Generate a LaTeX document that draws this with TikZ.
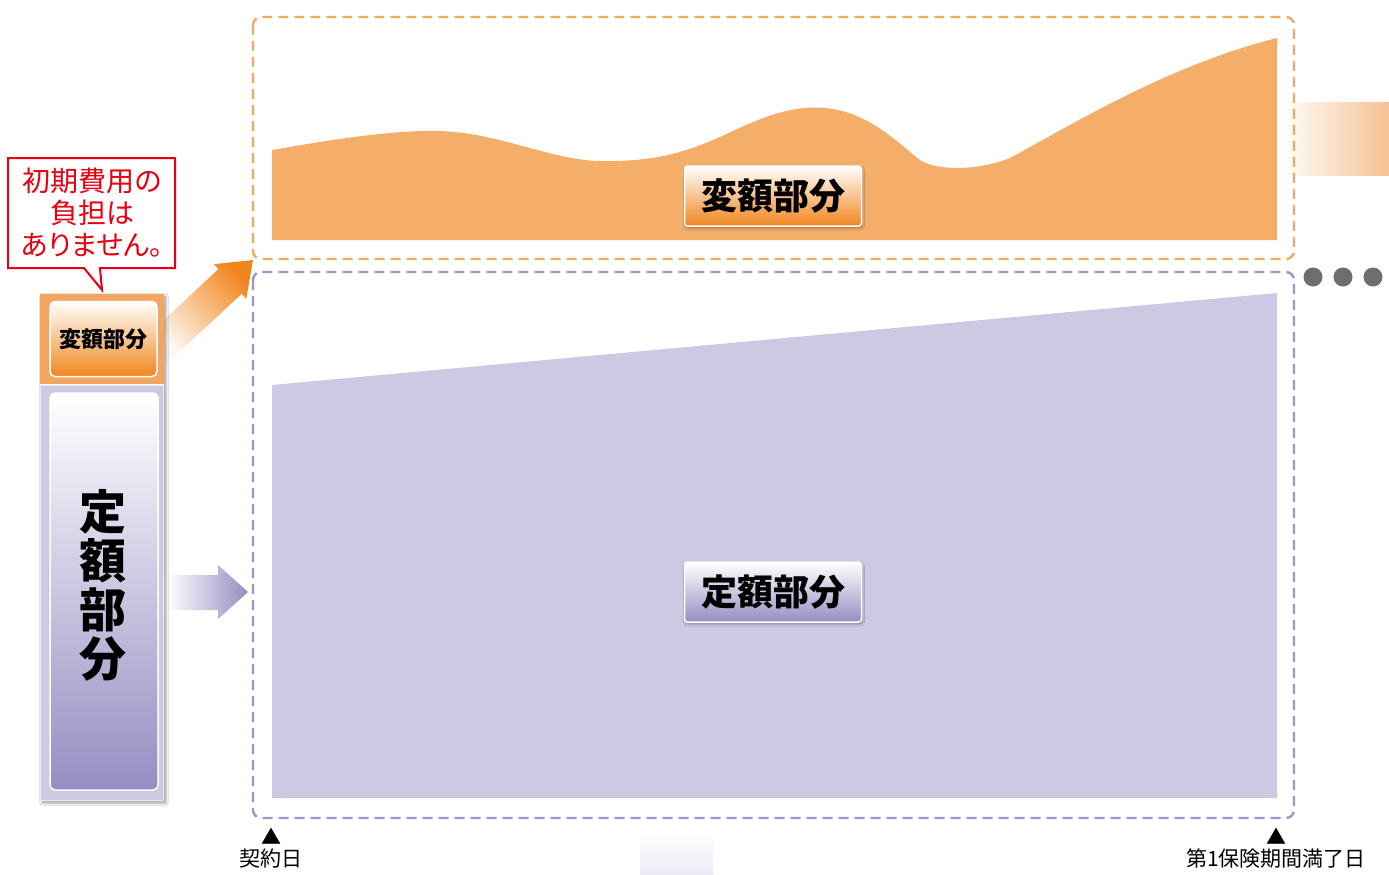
\documentclass[tikz,border=0pt]{standalone}
\usepackage{fontspec}
\setmainfont{Noto Sans CJK JP}
\newfontfamily\jpp[RawFeature=+palt]{Noto Sans CJK JP}
\usetikzlibrary{shadows.blur}
\definecolor{orF}{RGB}{245,174,106}
\definecolor{orD}{RGB}{246,168,96}
\definecolor{orG}{RGB}{240,134,30}
\definecolor{orBox}{RGB}{242,166,98}
\definecolor{puF}{RGB}{204,202,227}
\definecolor{puD}{RGB}{156,151,201}
\definecolor{puG}{RGB}{148,142,194}
\definecolor{puBd}{RGB}{232,231,242}
\definecolor{redC}{RGB}{230,0,18}
\definecolor{dotC}{RGB}{110,110,110}
\definecolor{bandC}{RGB}{245,194,146}
\definecolor{faint}{RGB}{236,235,245}
\begin{document}
\begin{tikzpicture}[x=1pt,y=-1pt,
  frame/.style={line width=2.4pt, dash pattern=on 10pt off 6pt, rounded corners=8pt},
  lbl/.style={draw=white, line width=1.5pt, rounded corners=3pt, inner sep=0pt,
    minimum width=177pt, minimum height=60pt,
    font=\fontsize{36}{40}\selectfont\bfseries,
    blur shadow={shadow xshift=1pt, shadow yshift=-2pt, shadow blur steps=5, shadow opacity=35}},
  innerbox/.style={draw=white, line width=1.5pt, rounded corners=5pt, inner sep=0pt},
  botlbl/.style={font=\fontsize{21}{24}\selectfont, inner sep=0pt},
  tri/.style={font=\fontsize{20}{20}\selectfont, inner sep=0pt},
  dot/.style={circle, fill=dotC, minimum size=19pt, inner sep=0pt}
]
\useasboundingbox (0,0) rectangle (1389,875);
\fill[white] (0,0) rectangle (1389,875);

% right side band and bottom faint block
\shade[left color=white, right color=bandC] (1280,102) rectangle (1389,175);
\shade[top color=white, bottom color=faint] (640,828) rectangle (713,875);

% chart areas
\fill[orF] (272,150)
  .. controls (330,140) and (390,130) .. (440,131)
  .. controls (500,133) and (550,160) .. (600,161)
  .. controls (660,162) and (690,150) .. (720,137)
  .. controls (760,118) and (790,105) .. (825,108)
  .. controls (870,112) and (900,145) .. (920,160)
  .. controls (935,170) and (975,172) .. (1010,158)
  .. controls (1080,120) and (1170,65) .. (1277,38)
  -- (1277,240) -- (272,240) -- cycle;
\fill[puF] (272,385) -- (1277,293) -- (1277,798) -- (272,798) -- cycle;

% dashed frames
\draw[frame, orD] (253,17) rectangle (1294,259);
\draw[frame, puD] (253,272) rectangle (1294,818);

% dots
\node[dot] (d1) at (1313,277) {};
\node[dot] (d2) at (1343,277) {};
\node[dot] (d3) at (1373,277) {};

% labels on chart
\node[lbl, top color=white, bottom color=orG] (vlbl) at (773,196) {変額部分};
\node[lbl, top color=white, bottom color=puG] (flbl) at (773,592) {定額部分};

% arrows
\shade[top color=orG, bottom color=orG!6, shading angle=-47]
  (163,321) -- (218.4,269.1) -- (213.8,264.2) -- (253,260) -- (246.2,298.8)
  -- (241.6,293.9) -- (163,367) -- cycle;
\shade[left color=white, right color=puG]
  (166,575) -- (218,575) -- (218,565) -- (248,592) -- (218,619) -- (218,610) -- (166,610) -- cycle;

% left column
\path[fill=white, blur shadow={shadow xshift=2pt, shadow yshift=-2pt, shadow blur steps=6, shadow opacity=35}]
  (40,294) rectangle (164,801);
\fill[orBox] (40,294) rectangle (164,384);
\draw[puBd, fill=puF, line width=1pt] (40.5,385) rectangle (163.5,800.5);
\node[innerbox, top color=white, bottom color=orG, minimum width=107pt, minimum height=75pt,
  font=\fontsize{22}{24}\selectfont\bfseries] (vsmall) at (103.5,339) {変額部分};
\node[innerbox, top color=white, bottom color=puG, minimum width=108pt, minimum height=397pt] (fcol) at (104,591.5) {};
\node[align=center, inner sep=0pt, font=\fontsize{47}{49}\selectfont\bfseries] (ftext) at (103,585) {定\\額\\部\\分};

% callout
\draw[redC, fill=white, line width=2pt] (8,158) -- (175,158) -- (175,268) -- (100,268) -- (102,290) -- (84,268) -- (8,268) -- cycle;
\node[align=center, inner sep=0pt, text=redC, font=\jpp\fontsize{28}{32}\selectfont] (callout) at (92,213) {初期費用の\\負担は\\ありません。};

% bottom labels
\node[tri] (t1) at (271,836) {▲};
\node[botlbl] (start) at (271,859) {契約日};
\node[tri] (t2) at (1276,836) {▲};
\node[botlbl] (end) at (1276,859) {第1保険期間満了日};
\end{tikzpicture}
\end{document}
